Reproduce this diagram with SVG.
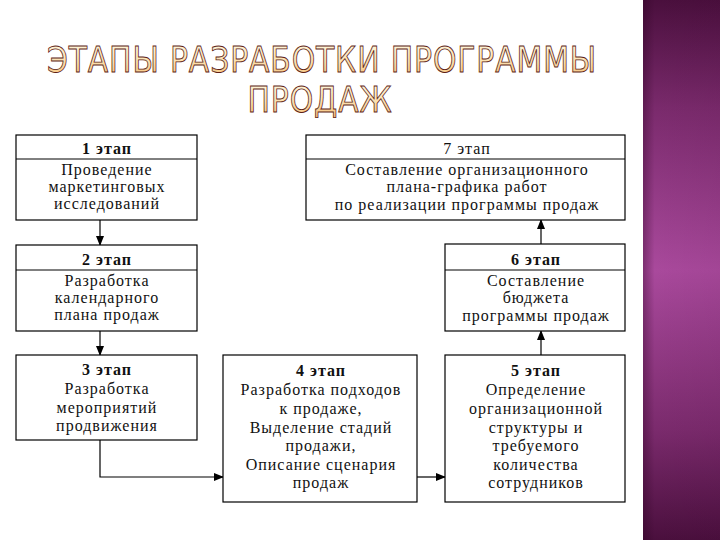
<svg xmlns="http://www.w3.org/2000/svg" width="720" height="540" viewBox="0 0 720 540">
<defs>
<linearGradient id="bar" x1="0" y1="0" x2="0" y2="1">
<stop offset="0" stop-color="#4a0f3d"/>
<stop offset="0.2" stop-color="#7a2a6c"/>
<stop offset="0.5" stop-color="#a9499c"/>
<stop offset="0.8" stop-color="#7a2a6c"/>
<stop offset="1" stop-color="#4a0f3d"/>
</linearGradient>
<linearGradient id="barShade" x1="0" y1="0" x2="1" y2="0">
<stop offset="0" stop-color="#2a0020" stop-opacity="0.35"/>
<stop offset="0.15" stop-color="#2a0020" stop-opacity="0"/>
<stop offset="1" stop-color="#2a0020" stop-opacity="0.05"/>
</linearGradient>
<linearGradient id="titleFill" x1="0" y1="0" x2="0" y2="1">
<stop offset="0" stop-color="#fffbe6"/>
<stop offset="0.55" stop-color="#fbe0b0"/>
<stop offset="1" stop-color="#f5bb70"/>
</linearGradient>
<marker id="arr" markerWidth="10" markerHeight="8" refX="9" refY="4" orient="auto" markerUnits="userSpaceOnUse">
<path d="M0,0 L10,4 L0,8 Z" fill="#000"/>
</marker>
<style>
.box{fill:#fff;stroke:#000;stroke-width:1.2}
.div{stroke:#000;stroke-width:1}
.t{font-family:"Liberation Serif","Times New Roman",serif;font-size:16px;fill:#111;text-anchor:middle;letter-spacing:1px}
.b{font-weight:bold}
.title{font-family:"DejaVu Sans","Liberation Sans",sans-serif;font-size:36px;fill:url(#titleFill);stroke:#5e1e16;stroke-width:0.9;text-anchor:middle;letter-spacing:1px}
.con{fill:none;stroke:#000;stroke-width:1.2}
</style>
</defs>
<rect x="0" y="0" width="720" height="540" fill="#fff"/>
<g id="sidebar">
<rect x="643" y="0" width="77" height="540" fill="url(#bar)"/>
<rect x="643" y="0" width="77" height="540" fill="url(#barShade)"/>
</g>
<g id="title">
<text class="title" x="322" y="72" textLength="550" lengthAdjust="spacingAndGlyphs">ЭТАПЫ РАЗРАБОТКИ ПРОГРАММЫ</text>
<text class="title" x="320" y="112" textLength="145" lengthAdjust="spacingAndGlyphs">ПРОДАЖ</text>
</g>
<g id="connectors">
<line class="con" x1="100" y1="220" x2="100" y2="245" marker-end="url(#arr)"/>
<line class="con" x1="100" y1="331" x2="100" y2="355" marker-end="url(#arr)"/>
<polyline class="con" points="100,440 100,477 223,477" marker-end="url(#arr)"/>
<line class="con" x1="417" y1="477" x2="445" y2="477" marker-end="url(#arr)"/>
<line class="con" x1="541" y1="355" x2="541" y2="331" marker-end="url(#arr)"/>
<line class="con" x1="541" y1="244" x2="541" y2="220" marker-end="url(#arr)"/>
</g>
<g id="stage1">
<rect class="box" x="16" y="135" width="181" height="85"/>
<line class="div" x1="16" y1="159" x2="197" y2="159"/>
<text class="t b" x="107" y="154">1 этап</text>
<text class="t" x="107" y="175">Проведение</text>
<text class="t" x="107" y="192">маркетинговых</text>
<text class="t" x="107" y="209">исследований</text>
</g>
<g id="stage2">
<rect class="box" x="16" y="245" width="181" height="86"/>
<line class="div" x1="16" y1="270" x2="197" y2="270"/>
<text class="t b" x="107" y="265">2 этап</text>
<text class="t" x="107" y="286">Разработка</text>
<text class="t" x="107" y="303">календарного</text>
<text class="t" x="107" y="320">плана продаж</text>
</g>
<g id="stage3">
<rect class="box" x="16" y="355" width="181" height="85"/>
<text class="t b" x="107" y="375">3 этап</text>
<text class="t" x="107" y="394">Разработка</text>
<text class="t" x="107" y="413">мероприятий</text>
<text class="t" x="107" y="431">продвижения</text>
</g>
<g id="stage4">
<rect class="box" x="223" y="355" width="194" height="147"/>
<text class="t b" x="321" y="376">4 этап</text>
<text class="t" x="321" y="395">Разработка подходов</text>
<text class="t" x="321" y="414">к продаже,</text>
<text class="t" x="321" y="433">Выделение стадий</text>
<text class="t" x="321" y="451">продажи,</text>
<text class="t" x="321" y="470">Описание сценария</text>
<text class="t" x="321" y="488">продаж</text>
</g>
<g id="stage5">
<rect class="box" x="445" y="355" width="180" height="147"/>
<text class="t b" x="536" y="376">5 этап</text>
<text class="t" x="536" y="395">Определение</text>
<text class="t" x="536" y="414">организационной</text>
<text class="t" x="536" y="433">структуры и</text>
<text class="t" x="536" y="451">требуемого</text>
<text class="t" x="536" y="470">количества</text>
<text class="t" x="536" y="488">сотрудников</text>
</g>
<g id="stage6">
<rect class="box" x="445" y="244" width="180" height="87"/>
<line class="div" x1="445" y1="270" x2="625" y2="270"/>
<text class="t b" x="536" y="265">6 этап</text>
<text class="t" x="536" y="286">Составление</text>
<text class="t" x="536" y="303">бюджета</text>
<text class="t" x="536" y="321">программы продаж</text>
</g>
<g id="stage7">
<rect class="box" x="306" y="135" width="319" height="85"/>
<line class="div" x1="306" y1="159" x2="625" y2="159"/>
<text class="t" x="467" y="154">7 этап</text>
<text class="t" x="467" y="175">Составление организационного</text>
<text class="t" x="467" y="192">плана-графика работ</text>
<text class="t" x="467" y="210">по реализации программы продаж</text>
</g>
</svg>
